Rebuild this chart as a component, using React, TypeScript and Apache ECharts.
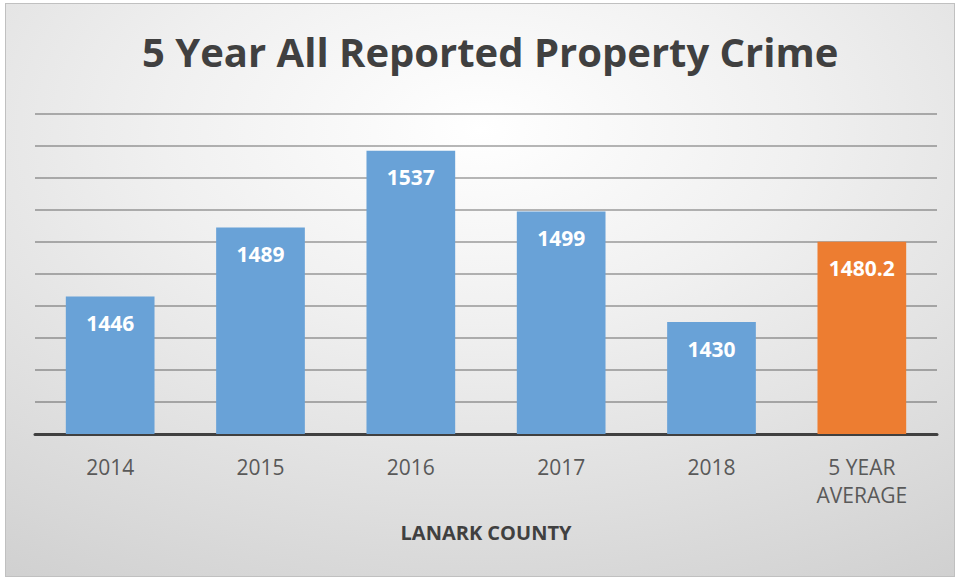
import React, { useEffect, useRef } from "react";
import * as echarts from "echarts";

const categories = ["2014", "2015", "2016", "2017", "2018", "5 YEAR\nAVERAGE"];
const values = [1446, 1489, 1537, 1499, 1430, 1480.2];
const barColors = ["#69a2d7", "#69a2d7", "#69a2d7", "#69a2d7", "#69a2d7", "#ed7d31"];
const titleText = "5 Year All Reported Property Crime";
const axisName = "LANARK COUNTY";

export default function App() {
  const ref = useRef<HTMLDivElement>(null);
  useEffect(() => {
    if (!ref.current) return;
    const chart = echarts.init(ref.current, undefined, { renderer: "svg" });
    chart.setOption({
      animation: false,
      backgroundColor: {
        type: "radial",
        x: 0.5,
        y: 0.22,
        r: 1.12,
        colorStops: [
          { offset: 0, color: "#ffffff" },
          { offset: 0.3, color: "#f0f0f0" },
          { offset: 0.7, color: "#d8d8d8" },
          { offset: 1, color: "#c6c6c6" },
        ],
      },
      title: {
        text: titleText,
        left: 131,
        top: 22,
        textStyle: {
          fontFamily: "Open Sans",
          fontWeight: "bold",
          fontSize: 40,
          color: "#404040",
        },
      },
      grid: { left: 29, right: 17, top: 110, bottom: 142, containLabel: false },
      xAxis: {
        type: "category",
        data: categories,
        axisLine: { show: true, lineStyle: { color: "#404040", width: 3 } },
        axisTick: { show: false },
        axisLabel: {
          margin: 19,
          fontFamily: "Open Sans",
          fontSize: 21,
          color: "#595959",
          lineHeight: 28,
          interval: 0,
        },
        name: axisName,
        nameLocation: "middle",
        nameGap: 88,
        nameTextStyle: {
          fontFamily: "Open Sans",
          fontWeight: "bold",
          fontSize: 20,
          color: "#404040",
        },
      },
      yAxis: {
        type: "value",
        min: 1360,
        max: 1560,
        interval: 20,
        axisLabel: { show: false },
        axisLine: { show: false },
        axisTick: { show: false },
        splitLine: { show: true, lineStyle: { color: "rgba(0,0,0,0.28)", width: 2 } },
      },
      series: [
        {
          type: "bar",
          data: values.map((v, i) => ({ value: v, itemStyle: { color: barColors[i] } })),
          barWidth: "59%",
          label: {
            show: true,
            position: "insideTop",
            distance: 16,
            fontFamily: "Open Sans",
            fontWeight: "bold",
            fontSize: 21,
            color: "#ffffff",
          },
        },
      ],
    });
    return () => chart.dispose();
  }, []);
  return (
    <div style={{ position: "absolute", left: 0, top: 0, width: 960, height: 579, background: "#ffffff" }}>
      <div
        style={{
          position: "absolute",
          left: 5,
          top: 3,
          width: 948,
          height: 572,
          border: "1px solid #c0c0c0",
        }}
      >
        <div ref={ref} style={{ width: 948, height: 572 }} />
      </div>
    </div>
  );
}
